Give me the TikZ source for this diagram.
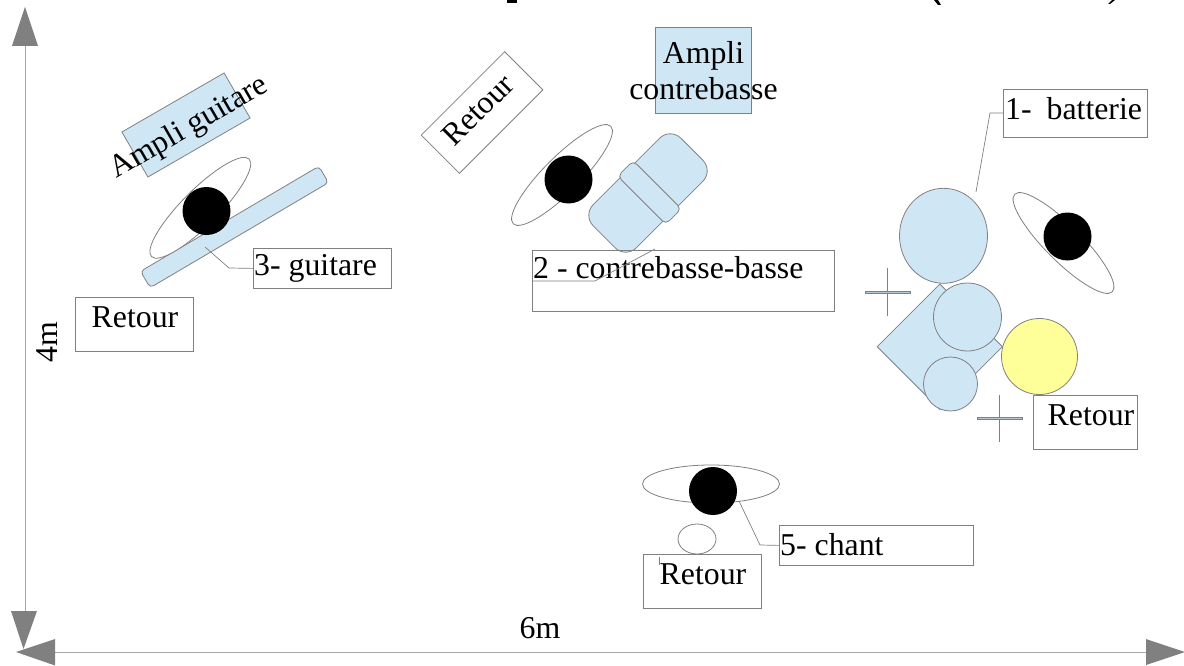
\documentclass[tikz,border=0pt]{standalone}
\usepackage{fontspec}
\setmainfont{Liberation Serif}
\usetikzlibrary{shapes.geometric}
\definecolor{lb}{HTML}{CFE7F5}
\definecolor{ln}{HTML}{808080}
\definecolor{yl}{HTML}{FFFF99}
\tikzset{
 ol/.style={draw=ln,line width=0.8pt},
 blue/.style={ol,fill=lb},
 lab/.style={font=\fontsize{31.8}{36}\selectfont,inner sep=0pt,text=black},
 orbit/.style={ellipse,ol,fill=white,inner sep=0pt,minimum width=138pt,minimum height=36pt},
 headc/.style={circle,fill=black,draw=none,minimum size=48pt,inner sep=0pt},
 boxn/.style={ol,fill=white,rectangle,inner sep=0pt,anchor=north west},
 bigtip/.style={fill=ln,draw=none},
 axis/.style={draw=ln!70,line width=1pt},
 leader/.style={draw=ln,line width=0.7pt},
 crossbar/.style={rectangle,draw=ln,line width=0.5pt,fill=lb!70!ln,inner sep=0pt,minimum width=45pt,minimum height=2.5pt},
}
\begin{document}
\begin{tikzpicture}[x=1pt,y=-1pt]
\useasboundingbox (0,0) rectangle (1184,666);
% title remnants
\fill[black] (507,0) rectangle (517,3);
\fill[black] (934,0) -- (938,0) -- (941,5) -- (938,5) -- cycle;
\fill[black] (1108,4) -- (1110,4) -- (1115,0) -- (1112,0) -- cycle;
% axes
\coordinate (vt) at (25,46);
\coordinate (vb) at (25,611);
\coordinate (hl) at (55,652);
\coordinate (hr) at (1154,652);
\draw[axis] (vt) -- (vb);
\draw[axis] (hl) -- (hr);
\fill[bigtip] (25,7) -- (38,46) -- (12,46) -- cycle;
\fill[bigtip] (23.5,649) -- (37,611) -- (11,611) -- cycle;
\fill[bigtip] (16,652) -- (55,639) -- (55,665.5) -- cycle;
\fill[bigtip] (1185,652) -- (1146,639) -- (1146,665) -- cycle;
\node[lab,rotate=90] (l4m) at (47,342) {4m};
\node[lab] (l6m) at (540,628) {6m};
% guitar group
\node[rectangle,blue,minimum width=118pt,minimum height=52pt,rotate=30,inner sep=0pt] (ampg) at (186,125) {};
\node[rectangle,rounded corners=4pt,blue,minimum width=207pt,minimum height=19pt,inner sep=0pt,rotate=30.5] (gtr) at (234.5,227) {};
\node[orbit,rotate=45] (og) at (200.3,207.8) {};
\node[lab,rotate=30] (tampg) at (189.5,128) {Ampli guitare};
\node[headc] (hg) at (206.5,211) {};
\node[boxn,minimum width=138pt,minimum height=40pt] (bg) at (253,248) {};
\node[lab,anchor=west] (tg) at (254,268) {3- guitare};
\coordinate (gA) at (205,247);
\coordinate (gB) at (229,268);
\draw[leader] (gA) -- (gB) -- (bg.west);
\node[boxn,minimum width=118pt,minimum height=54pt] (r1) at (75,297) {};
\node[lab] (tr1) at (135,317) {Retour};
% bass group
\node[rectangle,ol,fill=white,minimum width=118pt,minimum height=54pt,inner sep=0pt,rotate=45] (r2) at (482,112.5) {};
\node[lab,rotate=45] (tr2) at (478,110) {Retour};
\node[rectangle,blue,minimum width=96pt,minimum height=86pt,inner sep=0pt] (ampb) at (703.5,70) {};
\node[lab,align=center] (tampb) at (703.5,71) {Ampli\\contrebasse};
\node[orbit,rotate=45] (ob) at (562,175) {};
\node[headc] (hb) at (568.5,179.5) {};
\node[rectangle,rounded corners=15pt,blue,minimum width=124pt,minimum height=61pt,inner sep=0pt,rotate=45] (cb) at (648,193) {};
\node[rectangle,rounded corners=5pt,blue,minimum width=68pt,minimum height=22pt,inner sep=0pt,rotate=-45] (cbb) at (649.5,192.5) {};
\node[boxn,minimum width=302pt,minimum height=61pt,fill=none] (bb) at (532,250) {};
\node[lab,anchor=west] (tb) at (533,268) {2 - contrebasse-basse};
\coordinate (bA) at (655,249);
\coordinate (bB) at (595,281);
\coordinate (bC) at (533,281);
\draw[leader] (bA) -- (bB) -- (bC);
% drums
\coordinate (dA) at (976,192);
\coordinate (dB) at (990,113);
\node[boxn,minimum width=144pt,minimum height=48pt] (b1) at (1003,89) {};
\node[lab,anchor=west] (t1) at (1005,109) {1-\hspace{0.47em}batterie};
\draw[leader] (dA) -- (dB) -- (b1.west |- dB);
\node[rectangle,blue,minimum width=88.5pt,minimum height=88.5pt,inner sep=0pt,rotate=45] (snare) at (939.8,346.7) {};
\node[ellipse,blue,minimum width=88pt,minimum height=95pt,inner sep=0pt] (kick) at (943.5,235.8) {};
\node[circle,blue,minimum width=68pt,inner sep=0pt] (t2) at (967.5,317) {};
\node[circle,blue,minimum width=54pt,inner sep=0pt] (t3) at (950.5,384) {};
\node[circle,ol,fill=yl,minimum width=76pt,inner sep=0pt] (cy) at (1039.5,356.5) {};
\node[orbit,rotate=-45] (od) at (1063.5,243) {};
\node[headc] (hd) at (1067.5,236.5) {};
\coordinate (c1t) at (887.5,268);
\coordinate (c1b) at (887.5,316);
\draw[leader] (c1t) -- (c1b);
\node[crossbar] (c1) at (887.5,292) {};
\coordinate (c2t) at (999.5,395);
\coordinate (c2b) at (999.5,442);
\draw[leader] (c2t) -- (c2b);
\node[crossbar] (c2) at (999.5,418) {};
\node[boxn,minimum width=104pt,minimum height=54pt] (r3) at (1033,395) {};
\node[lab] (tr3) at (1091,415) {Retour};
% singer
\node[ellipse,ol,fill=white,inner sep=0pt,minimum width=137pt,minimum height=38pt] (os) at (711,484) {};
\node[headc] (hs) at (713,491) {};
\node[ellipse,ol,fill=white,inner sep=0pt,minimum width=38pt,minimum height=30pt] (mon) at (697,539) {};
\node[boxn,minimum width=118pt,minimum height=54pt,fill=none] (r4) at (643,554) {};
\node[lab] (tr4) at (703,574) {Retour};
\node[boxn,minimum width=194pt,minimum height=40pt] (b5) at (779,525) {};
\node[lab,anchor=west] (t5) at (780,545) {5- chant};
\coordinate (sA) at (739,501);
\coordinate (sB) at (760,545);
\draw[leader] (sA) -- (sB) -- (b5.west);
\coordinate (k1) at (659,557);
\coordinate (k2) at (659,565);
\draw[leader] (k1) -- (k2);
\end{tikzpicture}
\end{document}
